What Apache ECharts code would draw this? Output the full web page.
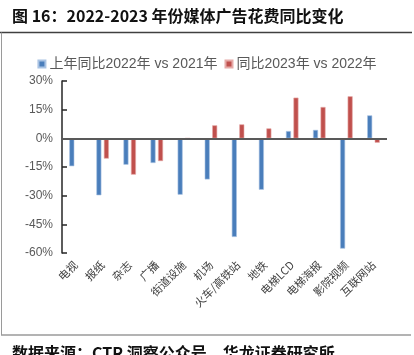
<!DOCTYPE html>
<html><head><meta charset="utf-8">
<script src="https://cdn.jsdelivr.net/npm/echarts@6/dist/echarts.min.js"></script>
<style>html,body{margin:0;padding:0;background:#fff}#c{width:414px;height:355px}</style>
</head><body><div id="c"></div>
<script>
const categories = ['电视','报纸','杂志','广播','街道设施','机场','火车/高铁站','地铁','电梯LCD','电梯海报','影院视频','互联网站'];
const series2022 = [-14.6,-29.8,-13.8,-12.9,-29.5,-21.5,-51.6,-26.9,3.8,4.4,-57.7,12.0];
const series2023 = [-0.6,-10.6,-19.0,-11.9,0,6.8,7.3,5.2,21.3,16.4,22.0,-2.3];
const seriesNames = ['上年同比2022年 vs 2021年','同比2023年 vs 2022年'];
const yTicks = {min:-60, max:30, interval:15};

const chart = echarts.init(document.getElementById('c'), null, {renderer:'canvas'});
const cjk = '"Noto Sans CJK SC", sans-serif';
chart.setOption({
  animation:false,
  textStyle:{fontFamily:cjk},
  legend:{
    top:52, left:'center', itemWidth:7, itemHeight:7, itemGap:7,
    icon:'rect',
    textStyle:{color:'#595959', fontSize:14, padding:[0,0,0,-1], fontFamily:'"Liberation Sans", '+cjk},
    data:seriesNames
  },
  grid:{left:62, right:27, top:81, bottom:102, containLabel:false},
  xAxis:{
    type:'category', data:categories, position:'bottom',
    axisLine:{show:false, onZero:false}, axisTick:{show:false},
    axisLabel:{rotate:45, interval:0, fontSize:11, color:'#404040', margin:10, fontFamily:cjk}
  },
  yAxis:{
    type:'value', min:yTicks.min, max:yTicks.max, interval:yTicks.interval,
    axisLine:{show:true, lineStyle:{color:'#262626', width:1.5}},
    axisTick:{show:true, inside:true, length:5, lineStyle:{color:'#262626', width:1.5}},
    splitLine:{show:false},
    axisLabel:{formatter:'{value}%', color:'#595959', fontSize:12, margin:9, fontFamily:'"Liberation Sans", sans-serif'}
  },
  series:[
    {name:seriesNames[0], type:'bar', data:series2022, barWidth:5, barGap:'50%',
     itemStyle:{color:'#4a7ebb', borderColor:'#a9c3e3', borderWidth:0.6},
     markLine:{silent:true, symbol:'none', label:{show:false},
       lineStyle:{color:'#595959', width:2, type:'solid'}, data:[{yAxis:0}]}},
    {name:seriesNames[1], type:'bar', data:series2023, barWidth:5,
     itemStyle:{color:'#c0504d', borderColor:'#e6aaa8', borderWidth:0.6}}
  ],
  graphic:[
    {type:'text', left:12, top:8, style:{text:'图 16：2022-2023 年份媒体广告花费同比变化', font:'bold 16px "Noto Sans CJK SC"', fill:'#111'}},
    {type:'line', shape:{x1:0,y1:32.5,x2:412,y2:32.5}, style:{stroke:'#404040', lineWidth:1.5}},
    {type:'line', shape:{x1:1.5,y1:32.5,x2:1.5,y2:335}, style:{stroke:'#9a9a9a', lineWidth:1}},
    {type:'line', shape:{x1:1,y1:335,x2:411,y2:335}, style:{stroke:'#9a9a9a', lineWidth:1.5}},
    {type:'text', left:12, top:345, style:{text:'数据来源：CTR 洞察公众号，华龙证券研究所', font:'bold 16px "Noto Sans CJK SC"', fill:'#111'}}
  ]
});
</script></body></html>
